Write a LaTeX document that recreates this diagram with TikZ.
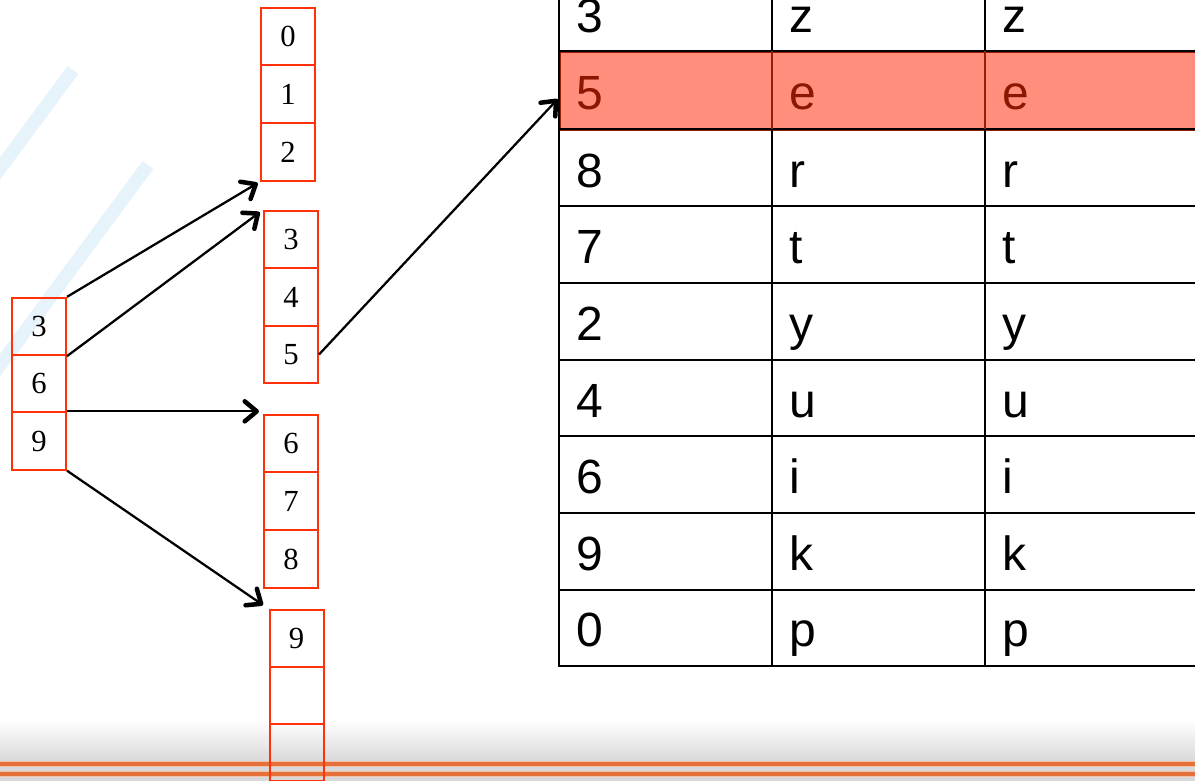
\documentclass[tikz,border=0pt]{standalone}
\usepackage{fontspec}
\setmainfont{Liberation Serif}
\newfontfamily\tabfont{Liberation Sans}
\usetikzlibrary{arrows.meta,calc}

\definecolor{boxred}{RGB}{255,48,10}
\definecolor{rowfill}{RGB}{255,143,124}
\definecolor{rowtext}{RGB}{140,22,0}
\definecolor{rowline}{RGB}{150,30,5}
\definecolor{stripe}{RGB}{222,239,248}
\definecolor{band}{RGB}{216,216,216}
\definecolor{bandline}{RGB}{229,112,58}

\tikzset{
  cell/.style={draw=boxred, line width=1.5pt, rectangle, inner sep=0pt,
    minimum width=40.5pt, minimum height=43pt,
    font=\fontsize{23}{23}\selectfont},
  link/.style={draw=black, line width=1.7pt,
    -{Straight Barb[length=9pt,width=15pt,line width=3.4pt,round]}},
  tabtxt/.style={anchor=base west, inner sep=0pt,
    font=\tabfont\fontsize{36}{36}\selectfont},
  grid/.style={line width=1.5pt, black},
}

\begin{document}
\begin{tikzpicture}[x=0.75pt, y=-0.75pt]
\useasboundingbox (0,0) rectangle (1195,781);
\clip (0,0) rectangle (1195,781);

% background decoration: pale diagonal stripes
\draw[stripe, line width=10pt, opacity=0.75] (73,70) -- (-10,182);
\draw[stripe, line width=10pt, opacity=0.75] (148,165) -- (-5,372);

% bottom gray band with two orange rules
\shade[top color=white, bottom color=band] (0,720) rectangle (1195,762);
\fill[band] (0,761) rectangle (1195,781);
\draw[bandline!45, line width=4.2pt] (0,764) -- (1195,764);
\draw[bandline, line width=2.4pt] (0,764) -- (1195,764);
\draw[bandline!45, line width=4.2pt] (0,774) -- (1195,774);
\draw[bandline, line width=2.4pt] (0,774) -- (1195,774);

% highlighted table row
\node[rectangle, fill=rowfill, draw=rowline, line width=1.5pt, inner sep=0pt,
  minimum width=480pt, minimum height=58.5pt, anchor=north west] (hl) at (559,51) {};

% table grid
\foreach \yy in {51,206,283,360,436,513,590,666}
  \draw[grid] (558,\yy) -- (1200,\yy);
\draw[grid] (558,129.5) -- (1200,129.5);
\draw[grid] (559,-5) -- (559,667);
\foreach \xx in {772,985}{
  \draw[grid] (\xx,-5) -- (\xx,51);
  \draw[line width=1.5pt, rowline] (\xx,51) -- (\xx,129);
  \draw[grid] (\xx,129) -- (\xx,667);
}

% table entries
\foreach \k/\a/\b/\base in {3/z/z/33, 8/r/r/187, 7/t/t/263, 2/y/y/340,
    4/u/u/417, 6/i/i/493, 9/k/k/570, 0/p/p/646}{
  \node[tabtxt] (c1-\k) at (576,\base) {\k};
  \node[tabtxt] (c2-\k) at (789,\base) {\a};
  \node[tabtxt] (c3-\k) at (1002,\base) {\b};
}
\node[tabtxt, text=rowtext] (c1-5) at (576,110) {5};
\node[tabtxt, text=rowtext] (c2-5) at (789,110) {e};
\node[tabtxt, text=rowtext] (c3-5) at (1002,110) {e};

% left index block
\node[cell] (l3) at (39,326.5) {3};
\node[cell] (l6) at (39,383.5) {6};
\node[cell] (l9) at (39,441) {9};

% leaf blocks
\node[cell] (a0) at (288,36.5) {0};
\node[cell] (a1) at (288,94) {1};
\node[cell] (a2) at (288,152) {2};

\node[cell] (b3) at (291,239.5) {3};
\node[cell] (b4) at (291,297) {4};
\node[cell] (b5) at (291,354.5) {5};

\node[cell] (c6) at (291,443.5) {6};
\node[cell] (c7) at (291,501) {7};
\node[cell] (c8) at (291,559) {8};

\node[cell] (d9) at (296.5,638.5) {9};
\node[cell] (d1) at (296.5,695.5) {};
\node[cell] (d2) at (296.5,752.5) {};

% pointers
\draw[link, shorten >=2pt] (l3.north east) -- (a2.south west);
\draw[link, shorten >=3pt] (l3.south east) -- (b3.north west);
\draw[link, shorten >=3pt] (l9.north east) -- (l9.north east -| c6.west);
\draw[link, shorten >=5pt] (l9.south east) -- (d9.north west);
\draw[link, shorten >=1.5pt] (b5.east) -- ([yshift=-5pt]hl.west);
\end{tikzpicture}
\end{document}
